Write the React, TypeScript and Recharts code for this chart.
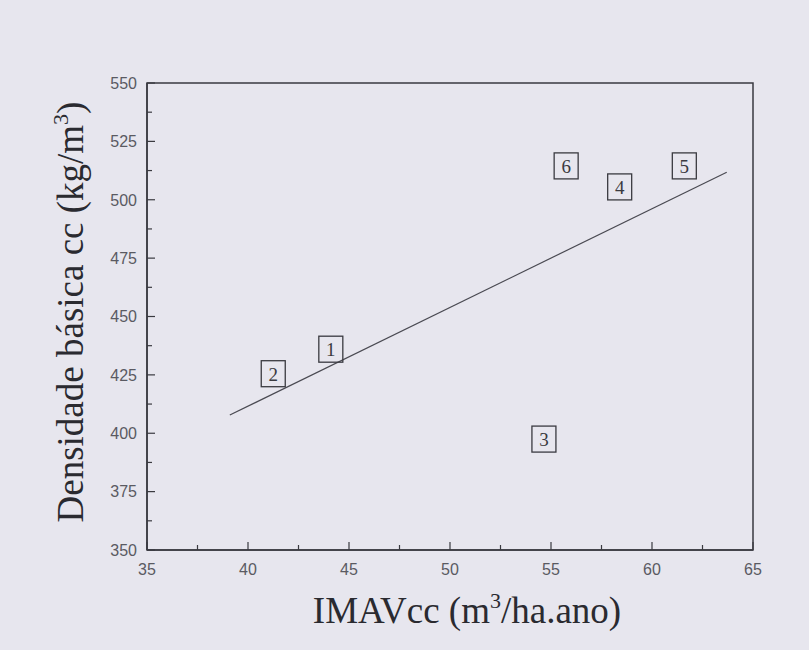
import React from 'react'
import {
  ComposedChart,
  Scatter,
  Line,
  XAxis,
  YAxis,
  ReferenceArea,
  Label,
} from 'recharts'

// sample stands: x = IMAVcc (m3/ha.ano), y = densidade basica (kg/m3)
const standIds = ['1', '2', '3', '4', '5', '6']
const imaValues = [44.1, 41.25, 54.65, 58.4, 61.6, 55.75]
const densityValues = [436, 425.5, 397.5, 505.5, 514.5, 514.5]

// fitted trend line end points
const fitX = [39.1, 63.7]
const fitY = [407.8, 511.8]

const xTicks = [35, 37.5, 40, 42.5, 45, 47.5, 50, 52.5, 55, 57.5, 60, 62.5, 65]
const yTicks = [350, 362.5, 375, 387.5, 400, 412.5, 425, 437.5, 450, 462.5, 475, 487.5, 500, 512.5, 525, 537.5, 550]

const points = standIds.map((id, i) => ({ id, x: imaValues[i], y: densityValues[i] }))
const fitLine = fitX.map((x, i) => ({ x, fit: fitY[i] }))

const INK = '#3a3a40'
const TICK_MARGIN = 10

const BoxMarker = (props: any) => {
  const { cx, cy, payload } = props
  if (cx == null || cy == null) return null
  return (
    <g>
      <rect x={cx - 12} y={cy - 13} width={24} height={26} fill="none" stroke={INK} strokeWidth={1.3} />
      <text
        x={cx}
        y={cy}
        dy="0.36em"
        textAnchor="middle"
        fontFamily="Liberation Serif"
        fontSize={19}
        fill={INK}
      >
        {payload.id}
      </text>
    </g>
  )
}

const YTick = (props: any) => {
  const { x, y, payload } = props
  const major = payload.value % 25 === 0
  const axisX = x + TICK_MARGIN
  return (
    <g>
      <line x1={axisX} x2={axisX + (major ? 8 : 5)} y1={y} y2={y} stroke={INK} strokeWidth={1.2} />
      {major && (
        <text x={x} y={y} dy="0.36em" textAnchor="end" fontFamily="Liberation Sans" fontSize={16} fill="#5a5a62">
          {payload.value}
        </text>
      )}
    </g>
  )
}

const XTick = (props: any) => {
  const { x, y, payload } = props
  const major = payload.value % 5 === 0
  const axisY = y - TICK_MARGIN
  return (
    <g>
      <line x1={x} x2={x} y1={axisY} y2={axisY - (major ? 8 : 5)} stroke={INK} strokeWidth={1.2} />
      {major && (
        <text x={x} y={axisY + 25} textAnchor="middle" fontFamily="Liberation Sans" fontSize={16} fill="#5a5a62">
          {payload.value}
        </text>
      )}
    </g>
  )
}

const YTitle = () => (
  <text
    transform="translate(83, 312) rotate(-90)"
    textAnchor="middle"
    fontFamily="Liberation Serif"
    fontSize={37}
    fill="#2a2a30"
  >
    Densidade básica cc (kg/m
    <tspan dy={-15} fontSize={22}>3</tspan>
    <tspan dy={15}>)</tspan>
  </text>
)

const XTitle = () => (
  <text x={467} y={623} textAnchor="middle" fontFamily="Liberation Serif" fontSize={37} fill="#2a2a30">
    IMAVcc (m
    <tspan dy={-15} fontSize={22}>3</tspan>
    <tspan dy={15}>/ha.ano)</tspan>
  </text>
)

export default function App() {
  return (
    <div style={{ position: 'absolute', left: 0, top: 0, width: 809, height: 650, background: '#e7e6ee' }}>
      <ComposedChart width={809} height={650} margin={{ top: 83, right: 56, bottom: 0, left: 0 }}>
        <XAxis
          type="number"
          dataKey="x"
          domain={[35, 65]}
          ticks={xTicks}
          interval={0}
          height={100}
          tickSize={0}
          tickMargin={TICK_MARGIN}
          tickLine={false}
          tick={<XTick />}
          axisLine={{ stroke: INK, strokeWidth: 1.5 }}
          allowDataOverflow
        >
          <Label content={<XTitle />} />
        </XAxis>
        <YAxis
          type="number"
          domain={[350, 550]}
          ticks={yTicks}
          interval={0}
          width={147}
          tickSize={0}
          tickMargin={TICK_MARGIN}
          tickLine={false}
          tick={<YTick />}
          axisLine={{ stroke: INK, strokeWidth: 1.5 }}
          allowDataOverflow
        >
          <Label content={<YTitle />} />
        </YAxis>
        <ReferenceArea x1={35} x2={65} y1={350} y2={550} fill="none" stroke={INK} strokeWidth={1.5} />
        <Line
          data={fitLine}
          dataKey="fit"
          type="linear"
          stroke="#4a4a52"
          strokeWidth={1.2}
          dot={false}
          activeDot={false}
          isAnimationActive={false}
        />
        <Scatter data={points} dataKey="y" shape={<BoxMarker />} isAnimationActive={false} />
      </ComposedChart>
    </div>
  )
}
